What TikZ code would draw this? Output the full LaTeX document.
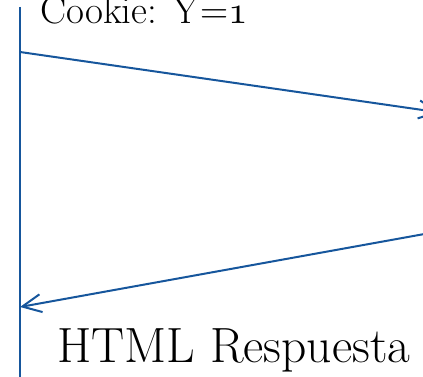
\documentclass[tikz,border=0pt]{standalone}
\usepackage{fontspec}
\usetikzlibrary{arrows.meta}
\definecolor{lineblue}{RGB}{22,86,156}
\DeclareFontFamily{OML}{oscm}{\skewchar\font127 }
\DeclareFontShape{OML}{oscm}{m}{it}{<->s*[1.0] cmmi10}{}
\newcommand{\osone}{{\usefont{OML}{oscm}{m}{it}1}}
\begin{document}
\begin{tikzpicture}[x=1pt,y=-1pt,
  msg/.style={draw=lineblue,line width=2pt,-{Straight Barb[length=19pt,width=18pt,line width=2pt]}},
  lbl/.style={inner sep=0pt,anchor=base west,text=black}]
\useasboundingbox (0,0) rectangle (423,377);
\clip (0,0) rectangle (423,377);
\coordinate (top) at (20,7);
\coordinate (bot) at (20,385);
\draw[lineblue,line width=2pt] (top) -- (bot);
\coordinate (a1s) at (20,52);
\coordinate (a1e) at (440,112.5);
\coordinate (a2s) at (430,233);
\coordinate (a2e) at (20,307);
\draw[msg] (a1s) -- (a1e);
\draw[msg] (a2s) -- (a2e);
\node[lbl,font=\fontsize{39}{44}\selectfont] (cookie) at (40,24) {Cookie: Y=\osone};
\node[lbl,font=\fontsize{49.5}{56}\selectfont] (html) at (57,362) {HTML Respuesta};
\end{tikzpicture}
\end{document}
